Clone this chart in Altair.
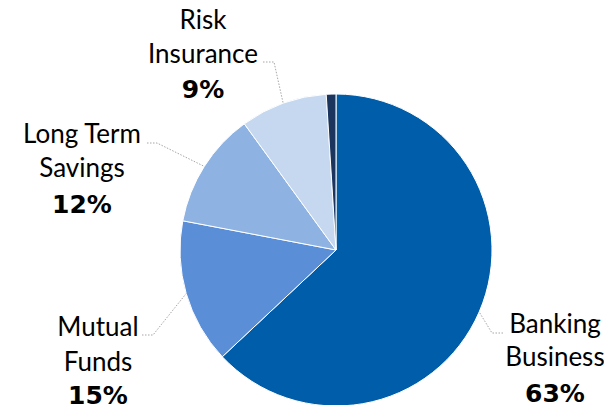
import math
import altair as alt
import pandas as pd

# ---- data ----
categories = ["Banking Business", "Mutual Funds", "Long Term Savings", "Risk Insurance", "Other"]
shares = [63, 15, 12, 9, 1]
name_lines = [["Banking", "Business"], ["Mutual", "Funds"], ["Long Term", "Savings"], ["Risk", "Insurance"], []]
pct_labels = ["63%", "15%", "12%", "9%", ""]
colors = ["#005DAA", "#5A8ED6", "#8EB3E2", "#C6D8EF", "#1C355E"]

# ---- layout (page pixel coordinates, converted to chart coordinates below) ----
OFF = 8  # page margin
W, H = 596, 397
CX, CY, R = 336, 250, 156
NAME_FONT = "Lato"
PCT_FONT = "DejaVu Sans"
# label anchor: centre x, baselines of the three lines; leader: start and elbow points
label_layout = {
    "Banking Business": dict(x=555, ys=[333, 366, 402], lead=[(503, 333), (492, 333)]),
    "Mutual Funds": dict(x=98, ys=[336, 371, 404], lead=[(142, 335), (153, 335)]),
    "Long Term Savings": dict(x=82, ys=[143, 177, 213], lead=[(147, 143), (157, 143)]),
    "Risk Insurance": dict(x=203, ys=[29, 63, 98], lead=[(263, 62), (274, 62)]),
}

# ---- tables ----
pie = pd.DataFrame({"category": categories, "share": shares, "idx": list(range(len(categories)))})

total = sum(shares)
name_rows, pct_rows, lead_rows = [], [], []
cum = 0
for cat, s, lines, pct in zip(categories, shares, name_lines, pct_labels):
    mid = (cum + s / 2) / total * 2 * math.pi
    cum += s
    if cat not in label_layout:
        continue
    L = label_layout[cat]
    for t, yy in zip(lines, L["ys"]):
        name_rows.append({"text": t, "x": L["x"] - OFF, "y": yy - OFF})
    pct_rows.append({"text": pct, "x": L["x"] - OFF, "y": L["ys"][len(lines)] - OFF})
    pts = L["lead"] + [(CX + R * math.sin(mid), CY - R * math.cos(mid))]
    for j, (px, py) in enumerate(pts):
        lead_rows.append({"cat": cat, "o": j, "x": px - OFF, "y": py - OFF})

names = pd.DataFrame(name_rows)
pcts = pd.DataFrame(pct_rows)
leads = pd.DataFrame(lead_rows)

arcs = alt.Chart(pie).mark_arc(outerRadius=R, stroke="white", strokeWidth=1).encode(
    theta=alt.Theta("share:Q", stack=True),
    order=alt.Order("idx:Q"),
    color=alt.Color("category:N", scale=alt.Scale(domain=categories, range=colors), legend=None),
    x=alt.value(CX - OFF),
    y=alt.value(CY - OFF),
)

lead_lines = alt.Chart(leads).mark_line(color="#A6A6A6", strokeWidth=1, strokeDash=[1.5, 1.5]).encode(
    x=alt.X("x:Q", scale=None, axis=None),
    y=alt.Y("y:Q", scale=None, axis=None),
    detail="cat:N",
    order="o:Q",
)

name_text = alt.Chart(names).mark_text(
    font=NAME_FONT, fontSize=26, color="#000000", align="center", baseline="alphabetic"
).encode(
    x=alt.X("x:Q", scale=None, axis=None),
    y=alt.Y("y:Q", scale=None, axis=None),
    text="text:N",
)

pct_text = alt.Chart(pcts).mark_text(
    font=PCT_FONT, fontSize=25, fontWeight="bold", color="#000000", align="center", baseline="alphabetic"
).encode(
    x=alt.X("x:Q", scale=None, axis=None),
    y=alt.Y("y:Q", scale=None, axis=None),
    text="text:N",
)

chart = alt.layer(arcs, lead_lines, name_text, pct_text).properties(
    width=W, height=H, padding=0, autosize=alt.AutoSizeParams(type="none")
).configure_view(stroke=None)

chart.save("out.html", embed_options={"renderer": "svg", "actions": False})
